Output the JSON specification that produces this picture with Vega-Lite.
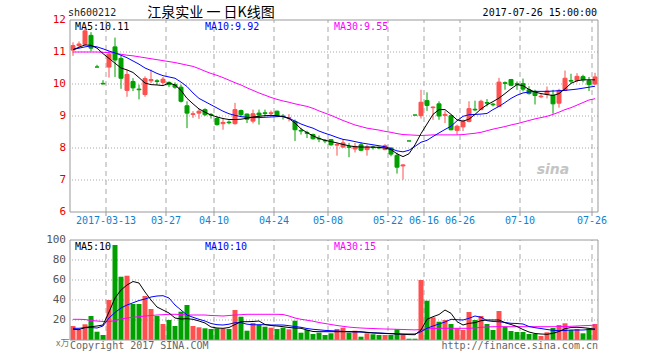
{
"$schema": "https://vega.github.io/schema/vega-lite/v6.json",
"width": 528, "height": 320,
"autosize": {"type": "none"},
"padding": {"left": 70, "top": 20, "right": 62, "bottom": 20},
"background": "white",
"config": {"view": {"stroke": null}},
"datasets": {
"ticks": [{"d":"2017-03-13","lab":"2017-03-13"},{"d":"2017-03-27","lab":"03-27"},{"d":"2017-04-10","lab":"04-10"},{"d":"2017-04-24","lab":"04-24"},{"d":"2017-05-08","lab":"05-08"},{"d":"2017-05-22","lab":"05-22"},{"d":"2017-06-16","lab":"06-16"},{"d":"2017-06-26","lab":"06-26"},{"d":"2017-07-10","lab":"07-10"},{"d":"2017-07-26","lab":"07-26"}],
"k": [
{"d":"2017-03-03","o":11.06,"h":11.3,"l":10.88,"c":11.2,"v":14,"m5":11.07,"m10":11.08,"m30":11.0,"vm5":10.7,"vm10":11.7,"vm30":20.7},
{"d":"2017-03-06","o":11.2,"h":11.33,"l":11.12,"c":11.25,"v":10,"m5":11.15,"m10":11.12,"m30":11.0,"vm5":10.3,"vm10":11.7,"vm30":20.7},
{"d":"2017-03-07","o":11.24,"h":11.76,"l":11.2,"c":11.66,"v":15.7,"m5":11.22,"m10":11.16,"m30":11.0,"vm5":12.5,"vm10":12.3,"vm30":20.5},
{"d":"2017-03-08","o":11.52,"h":11.62,"l":11.02,"c":11.12,"v":24,"m5":11.21,"m10":11.19,"m30":11.0,"vm5":13.3,"vm10":12.5,"vm30":19.5},
{"d":"2017-03-09","o":10.53,"h":10.6,"l":10.53,"c":10.53,"v":8.3,"m5":11.12,"m10":11.16,"m30":11.0,"vm5":14,"vm10":12,"vm30":19},
{"d":"2017-03-10","o":10.02,"h":10.12,"l":10.0,"c":10.0,"v":5,"m5":10.95,"m10":11.1,"m30":10.99,"vm5":15,"vm10":14,"vm30":18.5},
{"d":"2017-03-13","o":10.53,"h":11.02,"l":10.2,"c":10.93,"v":40,"m5":10.8,"m10":11.03,"m30":10.98,"vm5":28,"vm10":22,"vm30":18.3},
{"d":"2017-03-14","o":11.16,"h":11.45,"l":10.22,"c":10.75,"v":95,"m5":10.65,"m10":10.97,"m30":10.96,"vm5":42,"vm10":27.5,"vm30":19.5},
{"d":"2017-03-15","o":10.8,"h":10.9,"l":9.85,"c":10.18,"v":63.3,"m5":10.5,"m10":10.9,"m30":10.93,"vm5":50,"vm10":32,"vm30":21},
{"d":"2017-03-16","o":9.8,"h":10.45,"l":9.6,"c":10.3,"v":64.3,"m5":10.44,"m10":10.82,"m30":10.9,"vm5":55,"vm10":35,"vm30":22},
{"d":"2017-03-17","o":10.08,"h":10.18,"l":9.78,"c":9.88,"v":36,"m5":10.36,"m10":10.72,"m30":10.88,"vm5":58.5,"vm10":37.2,"vm30":22.7},
{"d":"2017-03-20","o":9.84,"h":9.98,"l":9.52,"c":9.82,"v":36,"m5":10.2,"m10":10.62,"m30":10.85,"vm5":57,"vm10":39.5,"vm30":23.3},
{"d":"2017-03-21","o":9.67,"h":10.24,"l":9.6,"c":10.17,"v":44,"m5":10.03,"m10":10.5,"m30":10.82,"vm5":48,"vm10":41,"vm30":24},
{"d":"2017-03-22","o":10.1,"h":10.45,"l":10.03,"c":10.14,"v":31,"m5":9.98,"m10":10.42,"m30":10.79,"vm5":40,"vm10":43,"vm30":24.5},
{"d":"2017-03-23","o":10.1,"h":10.15,"l":9.98,"c":10.08,"v":24,"m5":9.97,"m10":10.33,"m30":10.76,"vm5":33,"vm10":44,"vm30":25},
{"d":"2017-03-24","o":10.05,"h":10.22,"l":9.98,"c":10.15,"v":16,"m5":9.95,"m10":10.26,"m30":10.73,"vm5":30,"vm10":44.3,"vm30":25.3},
{"d":"2017-03-27","o":10.05,"h":10.08,"l":9.9,"c":9.98,"v":20,"m5":10.03,"m10":10.22,"m30":10.7,"vm5":27,"vm10":42,"vm30":25.7},
{"d":"2017-03-28","o":9.98,"h":10.05,"l":9.85,"c":9.9,"v":14,"m5":9.97,"m10":10.18,"m30":10.67,"vm5":22,"vm10":35,"vm30":25.7},
{"d":"2017-03-29","o":9.9,"h":9.98,"l":9.42,"c":9.46,"v":28.3,"m5":9.8,"m10":10.06,"m30":10.63,"vm5":21,"vm10":30,"vm30":25.5},
{"d":"2017-03-30","o":9.32,"h":9.46,"l":8.62,"c":9.09,"v":35,"m5":9.55,"m10":9.92,"m30":10.59,"vm5":21.3,"vm10":25,"vm30":25},
{"d":"2017-03-31","o":9.05,"h":9.15,"l":8.94,"c":9.07,"v":14,"m5":9.38,"m10":9.72,"m30":10.55,"vm5":20.7,"vm10":22.7,"vm30":25},
{"d":"2017-04-05","o":9.09,"h":9.22,"l":8.91,"c":9.15,"v":12.7,"m5":9.22,"m10":9.55,"m30":10.48,"vm5":19,"vm10":20.7,"vm30":25},
{"d":"2017-04-06","o":9.2,"h":9.24,"l":9.0,"c":9.04,"v":11.7,"m5":9.12,"m10":9.45,"m30":10.4,"vm5":17,"vm10":19,"vm30":25},
{"d":"2017-04-07","o":9.05,"h":9.09,"l":8.92,"c":9.03,"v":11,"m5":9.03,"m10":9.35,"m30":10.33,"vm5":13,"vm10":16.5,"vm30":24.5},
{"d":"2017-04-10","o":8.92,"h":8.99,"l":8.7,"c":8.73,"v":11.7,"m5":8.97,"m10":9.25,"m30":10.27,"vm5":12,"vm10":15.3,"vm30":24.3},
{"d":"2017-04-11","o":8.76,"h":8.94,"l":8.57,"c":8.8,"v":11.7,"m5":8.92,"m10":9.15,"m30":10.2,"vm5":11.7,"vm10":15,"vm30":24},
{"d":"2017-04-12","o":8.81,"h":8.86,"l":8.74,"c":8.79,"v":11,"m5":8.89,"m10":9.07,"m30":10.12,"vm5":12.5,"vm10":15.8,"vm30":24.5},
{"d":"2017-04-13","o":8.76,"h":9.41,"l":8.73,"c":9.2,"v":30,"m5":8.89,"m10":9.02,"m30":10.04,"vm5":15.5,"vm10":17.3,"vm30":25},
{"d":"2017-04-14","o":9.17,"h":9.2,"l":9.0,"c":9.04,"v":23.3,"m5":8.9,"m10":8.98,"m30":9.97,"vm5":18.3,"vm10":17.3,"vm30":25.3},
{"d":"2017-04-17","o":9.06,"h":9.08,"l":8.78,"c":8.9,"v":9.3,"m5":8.93,"m10":8.96,"m30":9.88,"vm5":18.3,"vm10":15.8,"vm30":25.7},
{"d":"2017-04-18","o":8.84,"h":9.2,"l":8.77,"c":9.07,"v":17,"m5":8.97,"m10":8.95,"m30":9.8,"vm5":18.5,"vm10":15.2,"vm30":25.7},
{"d":"2017-04-19","o":9.09,"h":9.2,"l":8.73,"c":9.03,"v":15,"m5":8.99,"m10":8.95,"m30":9.72,"vm5":19,"vm10":15.3,"vm30":25.7},
{"d":"2017-04-20","o":9.1,"h":9.2,"l":8.99,"c":9.08,"v":13.3,"m5":9.01,"m10":8.96,"m30":9.65,"vm5":15.5,"vm10":15.3,"vm30":25.7},
{"d":"2017-04-21","o":9.08,"h":9.17,"l":8.99,"c":9.1,"v":12.3,"m5":9.02,"m10":8.97,"m30":9.58,"vm5":14.5,"vm10":15,"vm30":25.7},
{"d":"2017-04-24","o":9.15,"h":9.17,"l":8.98,"c":9.01,"v":11,"m5":9.01,"m10":8.98,"m30":9.52,"vm5":14,"vm10":15,"vm30":25.7},
{"d":"2017-04-25","o":9.0,"h":9.06,"l":8.89,"c":8.98,"v":12.3,"m5":8.98,"m10":8.99,"m30":9.47,"vm5":13.3,"vm10":15,"vm30":25.5},
{"d":"2017-04-26","o":8.93,"h":9.06,"l":8.83,"c":8.95,"v":10.7,"m5":8.92,"m10":8.93,"m30":9.43,"vm5":12.5,"vm10":14.3,"vm30":24},
{"d":"2017-04-27","o":8.83,"h":8.89,"l":8.22,"c":8.57,"v":19.3,"m5":8.78,"m10":8.84,"m30":9.38,"vm5":12,"vm10":13.5,"vm30":22},
{"d":"2017-04-28","o":8.55,"h":8.63,"l":8.42,"c":8.53,"v":7.3,"m5":8.6,"m10":8.75,"m30":9.34,"vm5":11.7,"vm10":12.7,"vm30":20.7},
{"d":"2017-05-02","o":8.48,"h":8.54,"l":8.31,"c":8.46,"v":10,"m5":8.48,"m10":8.68,"m30":9.3,"vm5":10,"vm10":11.5,"vm30":19.8},
{"d":"2017-05-03","o":8.42,"h":8.45,"l":8.26,"c":8.29,"v":6,"m5":8.38,"m10":8.62,"m30":9.24,"vm5":8.5,"vm10":10.7,"vm30":18.8},
{"d":"2017-05-04","o":8.3,"h":8.39,"l":8.18,"c":8.28,"v":7.3,"m5":8.3,"m10":8.53,"m30":9.16,"vm5":8.3,"vm10":10.2,"vm30":17.5},
{"d":"2017-05-05","o":8.24,"h":8.28,"l":8.15,"c":8.22,"v":5,"m5":8.24,"m10":8.46,"m30":9.09,"vm5":8.3,"vm10":9.6,"vm30":16.5},
{"d":"2017-05-08","o":8.26,"h":8.28,"l":8.07,"c":8.1,"v":6.7,"m5":8.2,"m10":8.4,"m30":9.02,"vm5":8.3,"vm10":9.3,"vm30":15.5},
{"d":"2017-05-09","o":8.09,"h":8.16,"l":7.76,"c":8.11,"v":11,"m5":8.16,"m10":8.33,"m30":8.94,"vm5":8.3,"vm10":9,"vm30":14.5},
{"d":"2017-05-10","o":8.03,"h":8.28,"l":8.0,"c":8.16,"v":12.3,"m5":8.11,"m10":8.27,"m30":8.86,"vm5":8.3,"vm10":8.6,"vm30":13.7},
{"d":"2017-05-11","o":8.04,"h":8.16,"l":7.71,"c":8.02,"v":7.3,"m5":8.07,"m10":8.24,"m30":8.79,"vm5":8.3,"vm10":8.3,"vm30":12.9},
{"d":"2017-05-12","o":7.97,"h":8.16,"l":7.86,"c":8.05,"v":9.3,"m5":8.04,"m10":8.2,"m30":8.72,"vm5":8.3,"vm10":8.1,"vm30":12.4},
{"d":"2017-05-15","o":8.1,"h":8.17,"l":7.9,"c":7.93,"v":3.3,"m5":8.03,"m10":8.16,"m30":8.67,"vm5":8.3,"vm10":7.9,"vm30":12},
{"d":"2017-05-16","o":7.95,"h":8.1,"l":7.76,"c":8.03,"v":6.7,"m5":8.03,"m10":8.13,"m30":8.62,"vm5":7.5,"vm10":7.7,"vm30":11.7},
{"d":"2017-05-17","o":8.03,"h":8.07,"l":7.95,"c":8.01,"v":5.7,"m5":8.03,"m10":8.1,"m30":8.59,"vm5":7,"vm10":7.3,"vm30":11.5},
{"d":"2017-05-18","o":8.02,"h":8.05,"l":7.96,"c":8.0,"v":5,"m5":8.02,"m10":8.07,"m30":8.56,"vm5":6.8,"vm10":7,"vm30":11.2},
{"d":"2017-05-19","o":7.95,"h":8.12,"l":7.93,"c":8.07,"v":5,"m5":8.0,"m10":8.04,"m30":8.52,"vm5":6.5,"vm10":6.7,"vm30":11},
{"d":"2017-05-22","o":8.0,"h":8.02,"l":7.74,"c":7.81,"v":5,"m5":7.95,"m10":7.98,"m30":8.49,"vm5":6.3,"vm10":6.4,"vm30":10.9},
{"d":"2017-05-23","o":7.77,"h":7.85,"l":7.2,"c":7.4,"v":10.7,"m5":7.82,"m10":7.91,"m30":8.45,"vm5":6,"vm10":6.2,"vm30":10.7},
{"d":"2017-05-24","o":7.44,"h":7.5,"l":7.01,"c":7.47,"v":5.7,"m5":7.73,"m10":7.88,"m30":8.42,"vm5":5.7,"vm10":6,"vm30":10.5},
{"d":"2017-06-13","o":8.22,"h":8.22,"l":8.22,"c":8.22,"v":1.3,"m5":7.82,"m10":7.93,"m30":8.41,"vm5":5.4,"vm10":6,"vm30":10.3},
{"d":"2017-06-14","o":9.03,"h":9.03,"l":9.03,"c":9.03,"v":1.3,"m5":8.1,"m10":8.05,"m30":8.4,"vm5":5.3,"vm10":6,"vm30":10.1},
{"d":"2017-06-15","o":9.01,"h":9.82,"l":8.92,"c":9.43,"v":60,"m5":8.45,"m10":8.18,"m30":8.39,"vm5":10,"vm10":8.3,"vm30":10.5},
{"d":"2017-06-16","o":9.48,"h":9.74,"l":9.16,"c":9.33,"v":39.3,"m5":8.75,"m10":8.24,"m30":8.4,"vm5":20.7,"vm10":11.7,"vm30":11},
{"d":"2017-06-19","o":9.26,"h":9.3,"l":8.88,"c":9.28,"v":22.7,"m5":9.05,"m10":8.36,"m30":8.41,"vm5":23.3,"vm10":14,"vm30":11.5},
{"d":"2017-06-20","o":9.38,"h":9.46,"l":8.88,"c":9.0,"v":18.3,"m5":9.2,"m10":8.47,"m30":8.41,"vm5":25.5,"vm10":16,"vm30":11.7},
{"d":"2017-06-21","o":9.02,"h":9.15,"l":8.78,"c":9.05,"v":20,"m5":9.2,"m10":8.58,"m30":8.41,"vm5":30,"vm10":18,"vm30":11.7},
{"d":"2017-06-22","o":9.01,"h":9.04,"l":8.55,"c":8.57,"v":16,"m5":9.05,"m10":8.68,"m30":8.41,"vm5":26.7,"vm10":20.7,"vm30":11.7},
{"d":"2017-06-23","o":8.55,"h":8.73,"l":8.42,"c":8.68,"v":11.7,"m5":8.88,"m10":8.85,"m30":8.41,"vm5":18.3,"vm10":20.3,"vm30":11.7},
{"d":"2017-06-26","o":8.66,"h":8.89,"l":8.53,"c":8.83,"v":10,"m5":8.84,"m10":8.99,"m30":8.42,"vm5":15,"vm10":20,"vm30":11.7},
{"d":"2017-06-27","o":8.83,"h":9.46,"l":8.8,"c":9.23,"v":28,"m5":8.9,"m10":9.04,"m30":8.44,"vm5":16.7,"vm10":21.7,"vm30":11.7},
{"d":"2017-06-28","o":9.21,"h":9.48,"l":9.15,"c":9.19,"v":20,"m5":9.05,"m10":9.05,"m30":8.46,"vm5":17.3,"vm10":24,"vm30":12},
{"d":"2017-06-29","o":9.2,"h":9.51,"l":9.18,"c":9.46,"v":24,"m5":9.22,"m10":9.06,"m30":8.49,"vm5":19.3,"vm10":22.7,"vm30":12.7},
{"d":"2017-06-30","o":9.42,"h":9.53,"l":9.3,"c":9.4,"v":16,"m5":9.35,"m10":9.08,"m30":8.54,"vm5":20,"vm10":19.3,"vm30":13},
{"d":"2017-07-03","o":9.37,"h":9.41,"l":9.3,"c":9.35,"v":10,"m5":9.45,"m10":9.2,"m30":8.59,"vm5":20,"vm10":18.5,"vm30":13.3},
{"d":"2017-07-04","o":9.3,"h":10.19,"l":9.28,"c":10.06,"v":29,"m5":9.56,"m10":9.3,"m30":8.63,"vm5":20,"vm10":18.3,"vm30":13.3},
{"d":"2017-07-05","o":10.04,"h":10.08,"l":9.82,"c":10.02,"v":13.3,"m5":9.7,"m10":9.42,"m30":8.67,"vm5":17.3,"vm10":17.5,"vm30":13.3},
{"d":"2017-07-06","o":10.14,"h":10.16,"l":9.93,"c":9.96,"v":9,"m5":9.85,"m10":9.55,"m30":8.72,"vm5":15.5,"vm10":16.7,"vm30":13.3},
{"d":"2017-07-07","o":10.01,"h":10.08,"l":9.82,"c":9.99,"v":8,"m5":9.98,"m10":9.65,"m30":8.76,"vm5":13.5,"vm10":16.5,"vm30":13.3},
{"d":"2017-07-10","o":10.01,"h":10.17,"l":9.77,"c":9.84,"v":8,"m5":9.95,"m10":9.72,"m30":8.81,"vm5":10.5,"vm10":16,"vm30":13.3},
{"d":"2017-07-11","o":9.82,"h":9.93,"l":9.67,"c":9.7,"v":6,"m5":9.83,"m10":9.75,"m30":8.86,"vm5":8,"vm10":13.5,"vm30":13.3},
{"d":"2017-07-12","o":9.77,"h":9.82,"l":9.36,"c":9.64,"v":6,"m5":9.75,"m10":9.77,"m30":8.91,"vm5":6.5,"vm10":12.3,"vm30":13.3},
{"d":"2017-07-13","o":9.6,"h":9.72,"l":9.56,"c":9.62,"v":4,"m5":9.7,"m10":9.77,"m30":8.95,"vm5":6,"vm10":11.5,"vm30":13.3},
{"d":"2017-07-14","o":9.68,"h":9.92,"l":9.55,"c":9.78,"v":7.7,"m5":9.67,"m10":9.77,"m30":8.99,"vm5":5.7,"vm10":10.5,"vm30":13.3},
{"d":"2017-07-17","o":9.65,"h":9.82,"l":9.07,"c":9.38,"v":12,"m5":9.64,"m10":9.78,"m30":9.05,"vm5":6.7,"vm10":9.7,"vm30":13.3},
{"d":"2017-07-18","o":9.4,"h":9.85,"l":9.26,"c":9.8,"v":15,"m5":9.7,"m10":9.79,"m30":9.12,"vm5":8.5,"vm10":9.3,"vm30":13.3},
{"d":"2017-07-19","o":9.8,"h":10.42,"l":9.78,"c":10.18,"v":16.7,"m5":9.85,"m10":9.8,"m30":9.2,"vm5":11.3,"vm10":9.5,"vm30":13.5},
{"d":"2017-07-20","o":10.11,"h":10.32,"l":10.03,"c":10.09,"v":10,"m5":10.02,"m10":9.82,"m30":9.26,"vm5":12.5,"vm10":10,"vm30":13.7},
{"d":"2017-07-21","o":10.11,"h":10.34,"l":10.05,"c":10.24,"v":11,"m5":10.1,"m10":9.84,"m30":9.34,"vm5":12.7,"vm10":10,"vm30":14},
{"d":"2017-07-24","o":10.23,"h":10.29,"l":10.05,"c":10.13,"v":6.7,"m5":10.13,"m10":9.87,"m30":9.42,"vm5":12.3,"vm10":10,"vm30":14.3},
{"d":"2017-07-25","o":10.1,"h":10.22,"l":9.78,"c":9.98,"v":11.7,"m5":10.13,"m10":9.9,"m30":9.5,"vm5":11.7,"vm10":10.5,"vm30":14.5},
{"d":"2017-07-26","o":10.0,"h":10.35,"l":9.97,"c":10.22,"v":16,"m5":10.13,"m10":9.93,"m30":9.54,"vm5":10.7,"vm10":11,"vm30":15}
]
},
"resolve": {"scale": {"y": "independent"}, "axis": {"y": "independent"}},
"layer": [
{
"layer": [
{"data": {"values": [{"p":7},{"p":8},{"p":9},{"p":10},{"p":11}]}, "mark": {"type": "rule", "color": "#a8a8a8", "strokeDash": [1, 2], "strokeWidth": 1},
 "encoding": {"y": {"field": "p", "type": "quantitative", "axis": null, "scale": {"domain": [6, 12], "range": [192, 0], "nice": false, "zero": false}}}},
{"data": {"name": "ticks"}, "mark": {"type": "rule", "color": "#a8a8a8", "strokeDash": [5, 4], "strokeWidth": 1},
 "encoding": {"x": {"field": "d", "type": "ordinal", "bandPosition": 0, "axis": null, "scale": {"type": "band", "paddingInner": 0, "paddingOuter": 0}},
  "y": {"datum": 6, "axis": null}, "y2": {"datum": 12}}},
{"data": {"name": "k"}, "mark": {"type": "rule", "strokeWidth": 1},
 "encoding": {"x": {"field": "d", "type": "ordinal", "axis": null, "scale": {"type": "band", "paddingInner": 0, "paddingOuter": 0}},
  "y": {"field": "l", "type": "quantitative", "axis": null}, "y2": {"field": "h"},
  "color": {"condition": {"test": "datum.c > datum.o", "value": "#ff5050"}, "value": "#00a000"}}},
{"data": {"name": "k"}, "mark": {"type": "bar", "width": 4, "strokeWidth": 1},
 "encoding": {"x": {"field": "d", "type": "ordinal", "axis": null, "scale": {"type": "band", "paddingInner": 0, "paddingOuter": 0}},
  "y": {"field": "o", "type": "quantitative", "axis": null}, "y2": {"field": "c"},
  "fill": {"condition": {"test": "datum.c > datum.o", "value": "#ff5050"}, "value": "#00a000"},
  "stroke": {"condition": {"test": "datum.c > datum.o", "value": "#ff5050"}, "value": "#00a000"}}},
{"data": {"name": "k"}, "mark": {"type": "line", "color": "#ff00ff", "strokeWidth": 1},
 "encoding": {"x": {"field": "d", "type": "ordinal", "axis": null, "scale": {"type": "band", "paddingInner": 0, "paddingOuter": 0}}, "y": {"field": "m30", "type": "quantitative", "axis": null}}},
{"data": {"name": "k"}, "mark": {"type": "line", "color": "#0000ff", "strokeWidth": 1},
 "encoding": {"x": {"field": "d", "type": "ordinal", "axis": null, "scale": {"type": "band", "paddingInner": 0, "paddingOuter": 0}}, "y": {"field": "m10", "type": "quantitative", "axis": null}}},
{"data": {"name": "k"}, "mark": {"type": "line", "color": "#000000", "strokeWidth": 1},
 "encoding": {"x": {"field": "d", "type": "ordinal", "axis": null, "scale": {"type": "band", "paddingInner": 0, "paddingOuter": 0}}, "y": {"field": "m5", "type": "quantitative", "axis": null}}},
{"data": {"values": [{"p": 12}, {"p": 6}]}, "mark": {"type": "rule", "color": "#999999", "strokeWidth": 1},
 "encoding": {"y": {"field": "p", "type": "quantitative", "axis": null}}},
{"data": {"values": [{"d": "2017-03-03", "e": 0}, {"d": "2017-07-26", "e": 1}]}, "mark": {"type": "rule", "color": "#999999", "strokeWidth": 1},
 "transform": [{"filter": "datum.e == 0"}],
 "encoding": {"x": {"field": "d", "type": "ordinal", "bandPosition": 0, "axis": null, "scale": {"type": "band", "paddingInner": 0, "paddingOuter": 0}},
  "y": {"datum": 6, "axis": null}, "y2": {"datum": 12}}},
{"data": {"values": [{"d": "2017-07-26"}]}, "mark": {"type": "rule", "color": "#999999", "strokeWidth": 1},
 "encoding": {"x": {"field": "d", "type": "ordinal", "bandPosition": 1, "axis": null, "scale": {"type": "band", "paddingInner": 0, "paddingOuter": 0}},
  "y": {"datum": 6, "axis": null}, "y2": {"datum": 12}}},
{"data": {"name": "ticks"}, "mark": {"type": "rule", "color": "#999999", "strokeWidth": 1},
 "encoding": {"x": {"field": "d", "type": "ordinal", "bandPosition": 0, "axis": null, "scale": {"type": "band", "paddingInner": 0, "paddingOuter": 0}},
  "y": {"datum": 6, "axis": null}, "y2": {"datum": 5.875}}},
{"data": {"name": "ticks"}, "mark": {"type": "text", "align": "center", "baseline": "middle", "font": "DejaVu Sans Mono", "fontSize": 10, "color": "#0f82d0"},
 "encoding": {"x": {"field": "d", "type": "ordinal", "bandPosition": 0, "axis": null, "scale": {"type": "band", "paddingInner": 0, "paddingOuter": 0}},
  "y": {"datum": 5.72, "axis": null}, "text": {"field": "lab"}}},
{"data": {"values": [{"p":6},{"p":7},{"p":8},{"p":9},{"p":10},{"p":11},{"p":12}]}, "mark": {"type": "text", "align": "right", "baseline": "middle", "font": "DejaVu Sans Mono", "fontSize": 11, "color": "#e80000", "dx": -7},
 "encoding": {"x": {"datum": "2017-03-03", "type": "ordinal", "axis": null}, "y": {"field": "p", "type": "quantitative", "axis": null}, "text": {"field": "p"}}},
{"data": {"values": [{}]}, "mark": {"type": "text", "text": "MA5:10.11", "align": "left", "baseline": "alphabetic", "font": "DejaVu Sans Mono", "fontSize": 10, "color": "#000000", "dx": 2},
 "encoding": {"x": {"datum": "2017-03-03", "type": "ordinal", "axis": null}, "y": {"datum": 11.7, "axis": null}}},
{"data": {"values": [{}]}, "mark": {"type": "text", "text": "MA10:9.92", "align": "left", "baseline": "alphabetic", "font": "DejaVu Sans Mono", "fontSize": 10, "color": "#0000ff", "dx": 0},
 "encoding": {"x": {"datum": "2017-04-06", "type": "ordinal", "axis": null}, "y": {"datum": 11.7, "axis": null}}},
{"data": {"values": [{}]}, "mark": {"type": "text", "text": "MA30:9.55", "align": "left", "baseline": "alphabetic", "font": "DejaVu Sans Mono", "fontSize": 10, "color": "#ff00ff", "dx": 3},
 "encoding": {"x": {"datum": "2017-05-08", "type": "ordinal", "axis": null}, "y": {"datum": 11.7, "axis": null}}},
{"data": {"values": [{}]}, "mark": {"type": "text", "text": "sh600212", "align": "left", "baseline": "alphabetic", "font": "DejaVu Sans Mono", "fontSize": 10, "color": "#222222", "dx": -5},
 "encoding": {"x": {"datum": "2017-03-03", "type": "ordinal", "axis": null}, "y": {"datum": 12.11, "axis": null}}},
{"data": {"values": [{}]}, "mark": {"type": "text", "text": "江泉实业 一 日K线图", "align": "center", "baseline": "alphabetic", "font": "Noto Sans CJK SC", "fontSize": 14, "color": "#000000"},
 "encoding": {"x": {"datum": "2017-04-07", "type": "ordinal", "axis": null}, "y": {"datum": 12.1, "axis": null}}},
{"data": {"values": [{}]}, "mark": {"type": "text", "text": "2017-07-26 15:00:00", "align": "right", "baseline": "alphabetic", "font": "DejaVu Sans Mono", "fontSize": 10, "color": "#000000", "dx": 2},
 "encoding": {"x": {"datum": "2017-07-26", "type": "ordinal", "axis": null}, "y": {"datum": 12.11, "axis": null}}},
{"data": {"values": [{}]}, "mark": {"type": "text", "text": "sina", "align": "center", "baseline": "alphabetic", "font": "DejaVu Sans", "fontSize": 14, "fontStyle": "italic", "fontWeight": "bold", "color": "#c4c4c4"},
 "encoding": {"x": {"datum": "2017-07-17", "type": "ordinal", "axis": null}, "y": {"datum": 7.18, "axis": null}}}
]
},
{
"layer": [
{"data": {"values": [{"q":20},{"q":40},{"q":60},{"q":80}]}, "mark": {"type": "rule", "color": "#a8a8a8", "strokeDash": [1, 2], "strokeWidth": 1},
 "encoding": {"y": {"field": "q", "type": "quantitative", "axis": null, "scale": {"domain": [0, 100], "range": [320, 220], "nice": false, "zero": false}}}},
{"data": {"name": "ticks"}, "mark": {"type": "rule", "color": "#a8a8a8", "strokeDash": [5, 4], "strokeWidth": 1},
 "encoding": {"x": {"field": "d", "type": "ordinal", "bandPosition": 0, "axis": null, "scale": {"type": "band", "paddingInner": 0, "paddingOuter": 0}},
  "y": {"datum": 0, "axis": null}, "y2": {"datum": 100}}},
{"data": {"name": "k"}, "mark": {"type": "bar", "width": 5},
 "encoding": {"x": {"field": "d", "type": "ordinal", "axis": null, "scale": {"type": "band", "paddingInner": 0, "paddingOuter": 0}},
  "y": {"field": "v", "type": "quantitative", "axis": null}, "y2": {"datum": 0},
  "fill": {"condition": {"test": "datum.c > datum.o", "value": "#ff5050"}, "value": "#00a000"}}},
{"data": {"name": "k"}, "mark": {"type": "line", "color": "#ff00ff", "strokeWidth": 1},
 "encoding": {"x": {"field": "d", "type": "ordinal", "axis": null, "scale": {"type": "band", "paddingInner": 0, "paddingOuter": 0}}, "y": {"field": "vm30", "type": "quantitative", "axis": null}}},
{"data": {"name": "k"}, "mark": {"type": "line", "color": "#0000ff", "strokeWidth": 1},
 "encoding": {"x": {"field": "d", "type": "ordinal", "axis": null, "scale": {"type": "band", "paddingInner": 0, "paddingOuter": 0}}, "y": {"field": "vm10", "type": "quantitative", "axis": null}}},
{"data": {"name": "k"}, "mark": {"type": "line", "color": "#000000", "strokeWidth": 1},
 "encoding": {"x": {"field": "d", "type": "ordinal", "axis": null, "scale": {"type": "band", "paddingInner": 0, "paddingOuter": 0}}, "y": {"field": "vm5", "type": "quantitative", "axis": null}}},
{"data": {"values": [{"q": 100}, {"q": 0}]}, "mark": {"type": "rule", "color": "#999999", "strokeWidth": 1},
 "encoding": {"y": {"field": "q", "type": "quantitative", "axis": null}}},
{"data": {"values": [{"d": "2017-03-03"}]}, "mark": {"type": "rule", "color": "#999999", "strokeWidth": 1},
 "encoding": {"x": {"field": "d", "type": "ordinal", "bandPosition": 0, "axis": null, "scale": {"type": "band", "paddingInner": 0, "paddingOuter": 0}},
  "y": {"datum": 0, "axis": null}, "y2": {"datum": 100}}},
{"data": {"values": [{"d": "2017-07-26"}]}, "mark": {"type": "rule", "color": "#999999", "strokeWidth": 1},
 "encoding": {"x": {"field": "d", "type": "ordinal", "bandPosition": 1, "axis": null, "scale": {"type": "band", "paddingInner": 0, "paddingOuter": 0}},
  "y": {"datum": 0, "axis": null}, "y2": {"datum": 100}}},
{"data": {"values": [{"q":20},{"q":40},{"q":60},{"q":80},{"q":100}]}, "mark": {"type": "text", "align": "right", "baseline": "middle", "font": "DejaVu Sans Mono", "fontSize": 11, "color": "#555555", "dx": -7},
 "encoding": {"x": {"datum": "2017-03-03", "type": "ordinal", "axis": null}, "y": {"field": "q", "type": "quantitative", "axis": null}, "text": {"field": "q"}}},
{"data": {"values": [{}]}, "mark": {"type": "text", "text": "MA5:10", "align": "left", "baseline": "alphabetic", "font": "DejaVu Sans Mono", "fontSize": 10, "color": "#000000", "dx": 2},
 "encoding": {"x": {"datum": "2017-03-03", "type": "ordinal", "axis": null}, "y": {"datum": 90.5, "axis": null}}},
{"data": {"values": [{}]}, "mark": {"type": "text", "text": "MA10:10", "align": "left", "baseline": "alphabetic", "font": "DejaVu Sans Mono", "fontSize": 10, "color": "#0000ff", "dx": 0},
 "encoding": {"x": {"datum": "2017-04-06", "type": "ordinal", "axis": null}, "y": {"datum": 90.5, "axis": null}}},
{"data": {"values": [{}]}, "mark": {"type": "text", "text": "MA30:15", "align": "left", "baseline": "alphabetic", "font": "DejaVu Sans Mono", "fontSize": 10, "color": "#ff00ff", "dx": 3},
 "encoding": {"x": {"datum": "2017-05-08", "type": "ordinal", "axis": null}, "y": {"datum": 90.5, "axis": null}}},
{"data": {"values": [{}]}, "mark": {"type": "text", "text": "x万", "align": "left", "baseline": "alphabetic", "font": "Noto Sans CJK SC", "fontSize": 9, "color": "#777777", "dx": -17},
 "encoding": {"x": {"datum": "2017-03-03", "type": "ordinal", "axis": null}, "y": {"datum": -6, "axis": null}}},
{"data": {"values": [{}]}, "mark": {"type": "text", "text": "Copyright 2017 SINA.COM", "align": "left", "baseline": "alphabetic", "font": "DejaVu Sans Mono", "fontSize": 10, "color": "#666666", "dx": -3},
 "encoding": {"x": {"datum": "2017-03-03", "type": "ordinal", "axis": null}, "y": {"datum": -9, "axis": null}}},
{"data": {"values": [{}]}, "mark": {"type": "text", "text": "http://finance.sina.com.cn", "align": "right", "baseline": "alphabetic", "font": "DejaVu Sans Mono", "fontSize": 10, "color": "#666666", "dx": 3},
 "encoding": {"x": {"datum": "2017-07-26", "type": "ordinal", "axis": null}, "y": {"datum": -9, "axis": null}}}
]
}
]
}
